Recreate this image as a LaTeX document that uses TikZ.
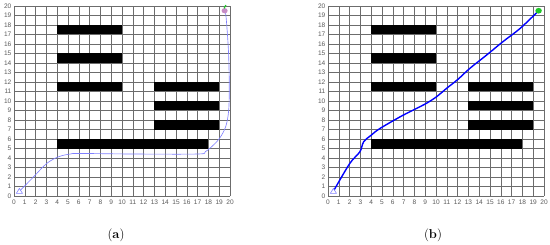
\documentclass[tikz,border=0pt]{standalone}
\usepackage{fontspec}
\newfontfamily\ticksfont{Liberation Sans}
\usepackage{tikz}
\usetikzlibrary{calc}
\definecolor{pathlight}{RGB}{128,128,255}
\definecolor{goalgreen}{RGB}{30,200,40}
\tikzset{
    gridline/.style={
        line width=0.45pt,
        gray!85!black
    },
    % obstacles
    obstacle/.style={
        fill=black,
        draw=none
    },
    ticklabel/.style={
        font=\ticksfont\fontsize{5.6}{6}\selectfont,
        text=gray!70!black,
        inner sep=0pt
    },
    pathA/.style={
        line width=0.55pt,
        pathlight
    },
    pathB/.style={
        line width=1.2pt,
        blue
    },
    startmark/.style={
        line width=0.5pt,
        draw=pathlight,
        fill=white
    },
    caption/.style={
        font=\fontsize{11}{13}\selectfont
    }
}

\begin{document}
\begin{tikzpicture}[x=0.03cm,y=-0.03cm]
	\useasboundingbox (0,0) rectangle (550,244);
	
	% panel (a)
	\begin{scope}[shift={(14,196)},x=0.324cm,y=0.285cm]
		\draw[gridline,step={(1,1)}] (0,0) grid (20,20);
		\foreach \bx/\by/\ex in {4/17/10,4/14/10,4/11/10,13/11/19,13/9/19,13/7/19,4/5/18}
			\fill[obstacle] (\bx,\by) rectangle (\ex,\by+1);
		\foreach \k in {0,...,20} {
			\node[ticklabel] at (\k,-0.7) {\k};
			\node[ticklabel,anchor=east] at (-0.22,\k) {\k};
		}
		\path (0.5,0.5) coordinate (sa)
		      (19.5,19.5) coordinate (ga);
		
		% path
		\draw[pathA] plot[smooth,tension=0.55] coordinates {
			(0.5,0.5) (1.8,2.0) (3.0,3.4) (4.1,4.12) (5.2,4.42) (6.1,4.48)
			(11,4.42) (17.0,4.42) (17.7,4.65) (18.45,5.35) (19.05,6.1)
			(19.6,7.3) (19.88,9.05) (19.93,11.9) (19.85,15.4) (19.63,18.9)
			(19.5,19.5)};
		
		% start and goal
		\draw[startmark] (sa) ++(-0.28,-0.22) -- ++(0.56,0) -- ++(-0.28,0.52) -- cycle;
		\fill[violet!45] (ga) circle (0.28);
		\draw[goalgreen,line width=1pt] (19.45,19.75) -- (19.62,20.1);
	\end{scope}
	
	% panel (b)
	\begin{scope}[shift={(328,196)},x=0.324cm,y=0.285cm]
		\draw[gridline,step={(1,1)}] (0,0) grid (20,20);
		\foreach \bx/\by/\ex in {4/17/10,4/14/10,4/11/10,13/11/19,13/9/19,13/7/19,4/5/18}
			\fill[obstacle] (\bx,\by) rectangle (\ex,\by+1);
		\foreach \k in {0,...,20} {
			\node[ticklabel] at (\k,-0.7) {\k};
			\node[ticklabel,anchor=east] at (-0.22,\k) {\k};
		}
		\path (0.5,0.5) coordinate (sb)
		      (19.5,19.5) coordinate (gb);
		
		% path
		\draw[pathB] plot[smooth,tension=0.55] coordinates {
			(0.5,0.5) (2.0,3.4) (2.95,4.65) (3.3,5.7) (4.05,6.45) (4.8,7.1)
			(6.7,8.35) (7.9,9.05) (9.1,9.75) (10.05,10.45) (11,11.35)
			(12,12.25) (13.15,13.45) (14.7,14.85) (16.2,16.25) (17.8,17.65)
			(19.5,19.5)};
		
		% start and goal
		\draw[startmark] (sb) ++(-0.28,-0.22) -- ++(0.56,0) -- ++(-0.28,0.52) -- cycle;
		\fill[goalgreen] (gb) circle (0.3);
	\end{scope}
	
	% captions
	\node[caption] (capa) at (116,235) {(\textbf{a})};
	\node[caption] (capb) at (433,235) {(\textbf{b})};
\end{tikzpicture}
\end{document}
